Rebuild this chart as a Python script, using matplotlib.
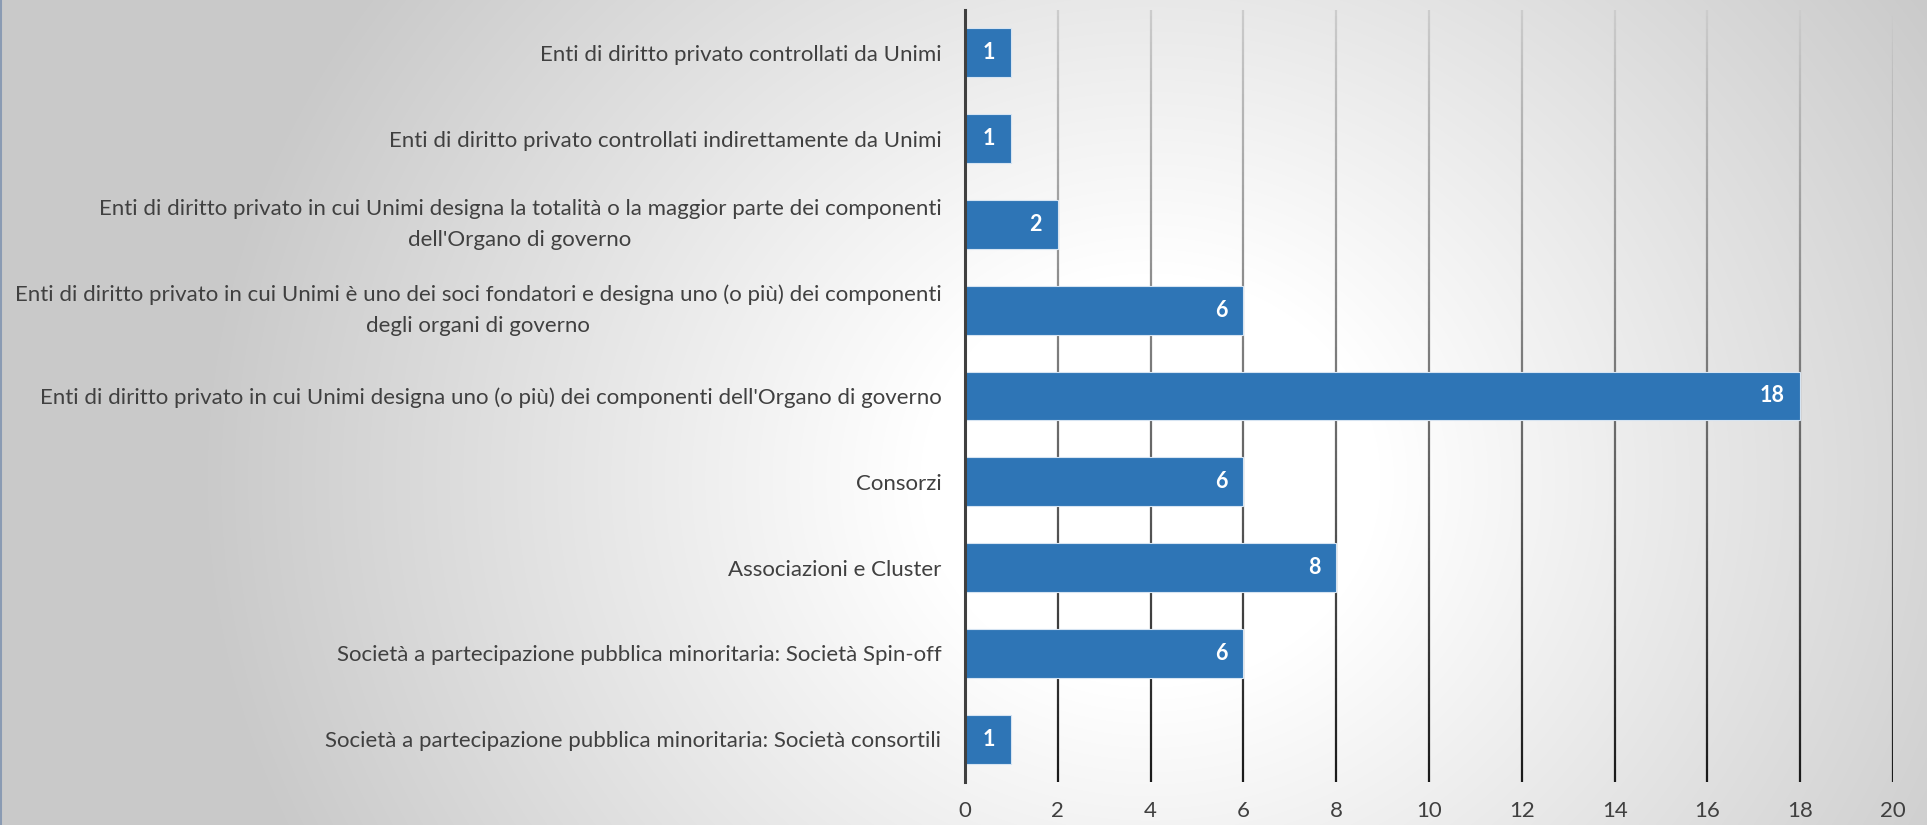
import numpy as np
import matplotlib.pyplot as plt
from matplotlib.collections import LineCollection

plt.rcParams['font.family'] = ['Lato', 'DejaVu Sans']

categories = [
    "Enti di diritto privato controllati da Unimi",
    "Enti di diritto privato controllati indirettamente da Unimi",
    "Enti di diritto privato in cui Unimi designa la totalità o la maggior parte dei componenti\ndell'Organo di governo",
    "Enti di diritto privato in cui Unimi è uno dei soci fondatori e designa uno (o più) dei componenti\ndegli organi di governo",
    "Enti di diritto privato in cui Unimi designa uno (o più) dei componenti dell'Organo di governo",
    "Consorzi",
    "Associazioni e Cluster",
    "Società a partecipazione pubblica minoritaria: Società Spin-off",
    "Società a partecipazione pubblica minoritaria: Società consortili",
]
values = [1, 1, 2, 6, 18, 6, 8, 6, 1]
xticks = [0, 2, 4, 6, 8, 10, 12, 14, 16, 18, 20]

W, H = 1927, 825
fig = plt.figure(figsize=(W / 100, H / 100), dpi=100)

# background: soft radial gradient, white around the bars, grey at the edges
bg = fig.add_axes([0, 0, 1, 1], zorder=-1)
yy, xx = np.mgrid[0:H, 0:W]
r = np.sqrt(((xx - 1150) / 1.0) ** 2 + ((yy - 480) / 0.9) ** 2)
g = 1 - 0.21 * np.clip((r - 230) / 720, 0, 1)
bg.imshow(np.dstack([g, g, g]), extent=[0, W, H, 0], aspect='auto')
bg.plot([1, 1], [0, H], color='#8a9bb3', lw=1.5)
bg.set_xlim(0, W)
bg.set_ylim(H, 0)
bg.axis('off')

ax = fig.add_axes([965 / W, (H - 782) / H, (1893 - 965) / W, (782 - 10) / H])
ax.patch.set_alpha(0)
n = len(categories)
y = np.arange(n)
ax.set_xlim(0, 20)
ax.set_ylim(n - 0.5, -0.5)

# gridlines fading from light grey at top to near black at bottom
ys = np.linspace(-0.5, n - 0.5, 120)
for t in xticks[1:]:
    segs = [[(t, ys[i]), (t, ys[i + 1])] for i in range(len(ys) - 1)]
    shade = np.linspace(0.80, 0.10, len(segs))
    cols = [(s, s, s) for s in shade]
    ax.add_collection(LineCollection(segs, colors=cols, linewidths=1.6, zorder=1))

bars = ax.barh(y, values, height=0.57, color='#2e75b6', edgecolor='#d6e4f2',
               linewidth=0.8, zorder=2)
for b, v in zip(bars, values):
    ax.annotate(str(v), (v, b.get_y() + b.get_height() / 2), xytext=(-16, 0),
                textcoords='offset pixels', ha='right', va='center',
                color='white', fontsize=15.5, fontweight='bold', zorder=3)

ax.set_yticks(y)
ax.set_yticklabels(categories, fontsize=16, color='#404040',
                   multialignment='center', linespacing=1.65)
for lab in ax.get_yticklabels():
    if '\n' in lab.get_text():
        lab.set_va('center')
ax.set_xticks(xticks)
ax.set_xticklabels([str(t) for t in xticks], fontsize=16, color='#404040')
ax.tick_params(axis='both', length=0)
ax.tick_params(axis='y', pad=17)
ax.tick_params(axis='x', pad=14)
for s in ['top', 'right', 'bottom']:
    ax.spines[s].set_visible(False)
ax.spines['left'].set_color('#404040')
ax.spines['left'].set_linewidth(2.2)
ax.spines['left'].set_zorder(4)

fig.savefig('out.png', dpi=100)
